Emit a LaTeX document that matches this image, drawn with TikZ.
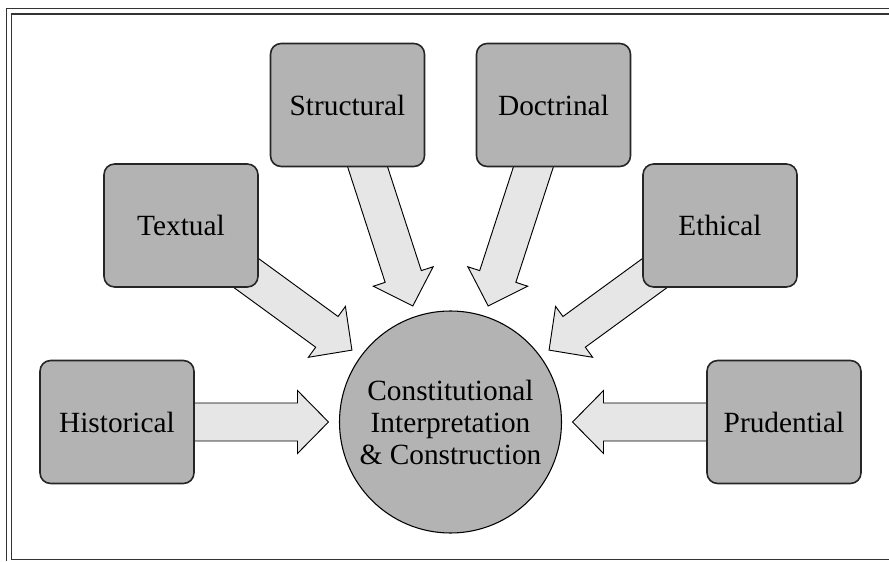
\documentclass[tikz,border=0pt]{standalone}
\usepackage{fontspec}
\setmainfont{Liberation Serif}
\usetikzlibrary{calc,backgrounds}

\definecolor{boxgray}{HTML}{B3B3B3}
\definecolor{arrowgray}{HTML}{E6E6E6}
\definecolor{framegray}{HTML}{333333}

\tikzset{
    source/.style={draw=black!85,line width=1.2pt,fill=boxgray,rounded corners=8pt,
        minimum width=115.5pt,minimum height=92.25pt,inner sep=0pt,outer sep=0pt,
        font=\fontsize{22}{24}\selectfont},
    hub/.style={draw=black,line width=0.8pt,fill=boxgray,circle,minimum size=166.5pt,
        inner sep=0pt,align=center,font=\fontsize{22}{24}\selectfont},
    fatarrow/.style={draw=black,line width=0.7pt,fill=arrowgray,line join=miter},
    frameline/.style={draw=framegray,line width=1.1pt}
}

\begin{document}
\begin{tikzpicture}[x=0.75pt,y=0.75pt]
    \useasboundingbox (0,0) rectangle (889,561);

    % double frame
    \draw[frameline] (6.5,0) -- (6.5,552.5) -- (889,552.5);
    \draw[frameline] (889,1.5) -- (11.5,1.5) -- (11.5,547) -- (889,547);

    \node[hub] (interp) at (450.5,139) {Constitutional\\Interpretation\\\& Construction};

    \node[source] (historical) at (117,139) {Historical};
    \node[source] (textual) at (181,335.5) {Textual};
    \node[source] (structural) at (347.5,456) {Structural};
    \node[source] (doctrinal) at (553.5,456) {Doctrinal};
    \node[source] (ethical) at (720,335.5) {Ethical};
    \node[source] (prudential) at (784,139) {Prudential};

    % block arrows behind the boxes
    \begin{scope}[on background layer]
    \foreach \src in {historical,textual,structural,doctrinal,ethical,prudential}{
        \coordinate (tip) at ($(interp.center)!91.5pt!(\src.center)$);
        \coordinate (base) at ($(interp.center)!114.75pt!(\src.center)$);
        \draw[fatarrow] (tip)
            -- ($(base)!23.6pt!90:(\src.center)$)
            -- ($(base)!14.25pt!90:(\src.center)$)
            -- ($(\src.center)!14.25pt!-90:(base)$)
            -- ($(\src.center)!14.25pt!90:(base)$)
            -- ($(base)!14.25pt!-90:(\src.center)$)
            -- ($(base)!23.6pt!-90:(\src.center)$)
            -- cycle;
    }
    \end{scope}
\end{tikzpicture}
\end{document}
